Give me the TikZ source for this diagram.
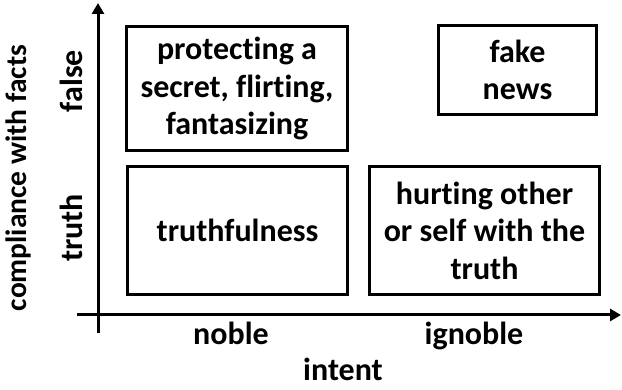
\documentclass[tikz,border=0pt]{standalone}
\usepackage{fontspec}
\setmainfont[Ligatures=NoCommon]{Carlito}
\usetikzlibrary{arrows.meta}

\begin{document}
\begin{tikzpicture}[x=1pt,y=-1pt,
  font=\bfseries\fontsize{32}{37.5}\selectfont,
  quadbox/.style={draw,line width=3pt,align=center,inner sep=0pt},
  axisline/.style={line width=3pt,-{Triangle[length=11pt,width=12pt]}},
  axislabel/.style={inner sep=0pt,anchor=base}]
\useasboundingbox (0,0) rectangle (622,390);
\coordinate (ybot) at (98,333);
\coordinate (ytop) at (98,3);
\coordinate (xleft) at (77,315);
\coordinate (xright) at (621,315);
\draw[axisline] (ybot) -- (ytop);
\draw[axisline] (xleft) -- (xright);
\node[quadbox,minimum width=221pt,minimum height=124pt] (secret) at (237,88.5) {protecting a\\secret, flirting,\\fantasizing};
\node[quadbox,minimum width=158pt,minimum height=89pt] (fake) at (517.5,70) {fake\\news};
\node[quadbox,minimum width=220pt,minimum height=128pt] (truthful) at (237.5,230.5) {truthfulness};
\node[quadbox,minimum width=230pt,minimum height=128pt] (hurting) at (484.5,230.5) {hurting other\\or self with the\\truth};
  \foreach \txt/\pos in {noble/231,ignoble/474}
  {  \node [axislabel] (\txt) at (\pos,345) {\txt};}
\node[axislabel] (intent) at (343,381) {intent};
  \foreach \txt/\pos in {false/81,truth/228}
  {  \node [rotate=90,inner sep=0pt] (\txt) at (71,\pos) {\txt};}
\node[rotate=90,inner sep=0pt,font=\bfseries\fontsize{29.5}{36}\selectfont] (compliance) at (18,178) {compliance with facts};
\end{tikzpicture}
\end{document}
